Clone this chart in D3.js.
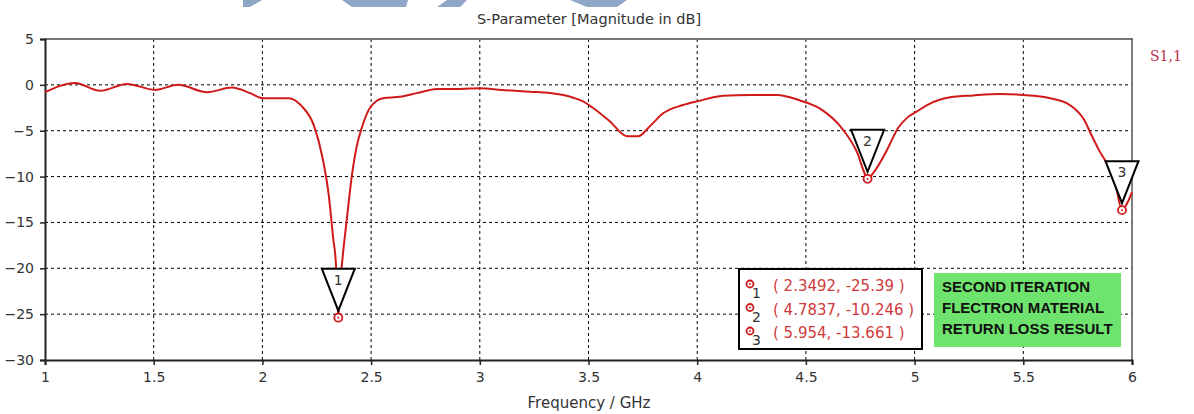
<!DOCTYPE html>
<html>
<head>
<meta charset="utf-8">
<script src="https://cdn.jsdelivr.net/npm/d3@7"></script>
<style>
  body { margin: 0; background: #fff; }
  svg { display: block; }
</style>
</head>
<body>
<svg id="chart" width="1194" height="414"></svg>
<script>
// S11 curve (GHz, dB)
var freq = [1.000, 1.138, 1.253, 1.377, 1.506, 1.612, 1.745, 1.860, 1.943, 2.003,
  2.120, 2.180, 2.238, 2.277, 2.305, 2.325, 2.339, 2.345, 2.3492, 2.354,
  2.365, 2.388, 2.411, 2.434, 2.457, 2.495, 2.555, 2.633, 2.711, 2.803,
  2.900, 3.000, 3.100, 3.230, 3.323, 3.430, 3.475, 3.520, 3.599, 3.677,
  3.728, 3.783, 3.843, 3.935, 3.999, 4.119, 4.243, 4.367, 4.473, 4.565,
  4.671, 4.736, 4.773, 4.7837, 4.810, 4.873, 4.924, 4.965, 5.011, 5.057,
  5.163, 5.269, 5.393, 5.499, 5.623, 5.700, 5.750, 5.780, 5.810, 5.850,
  5.890, 5.920, 5.954, 5.980, 6.000];
var s11 = [-0.8, 0.2, -0.65, 0.1, -0.55, 0.0, -0.8, -0.3, -0.9, -1.45,
  -1.45, -2.3, -4.5, -8.0, -12.0, -16.6, -19.8, -23.0, -25.39, -23.0,
  -19.8, -14.7, -10.0, -6.7, -4.7, -2.5, -1.45, -1.3, -0.9, -0.45,
  -0.45, -0.36, -0.55, -0.75, -0.9, -1.4, -1.8, -2.5, -4.0, -5.6,
  -5.6, -4.5, -3.1, -2.2, -1.8, -1.2, -1.1, -1.1, -1.7, -2.6,
  -4.9, -7.4, -9.8, -10.246, -9.6, -7.1, -4.7, -3.6, -2.9, -2.2,
  -1.35, -1.15, -1.0, -1.1, -1.45, -2.0, -2.9, -3.8, -5.3, -7.2,
  -8.8, -10.4, -13.661, -12.8, -11.7];

var markerIds = ["1", "2", "3"];
var markerF = [2.3492, 4.7837, 5.954];
var markerDb = [-25.39, -10.246, -13.661];

var xTicks = [1, 1.5, 2, 2.5, 3, 3.5, 4, 4.5, 5, 5.5, 6];
var yTicks = [5, 0, -5, -10, -15, -20, -25, -30];

var noteLines = ["SECOND ITERATION", "FLECTRON MATERIAL", "RETURN LOSS RESULT"];

var svg = d3.select("#chart");
var pLeft = 45, pRight = 1132, pTop = 39, pBottom = 360;

var x = d3.scaleLinear().domain([1, 6]).range([pLeft, pRight]);
var y = d3.scaleLinear().domain([-30, 5]).range([pBottom, pTop]);

// watermark bits at the top edge
var wm = [
  [[243, 0], [262, 0], [250, 7], [243, 7]],
  [[342, 0], [408, 0], [406, 7], [352, 7]],
  [[447, 0], [467, 0], [460, 7], [437, 7]],
  [[570, 0], [627, 0], [617, 7], [587, 7]]
];
svg.selectAll("polygon.wm").data(wm).enter().append("polygon")
  .attr("class", "wm")
  .attr("points", function(d) { return d.map(function(p) { return p.join(","); }).join(" "); })
  .style("fill", "#8fa6c6");

// grid
var g = svg.append("g");
g.selectAll("line.vg").data(xTicks.slice(1, -1)).enter().append("line")
  .attr("x1", function(d) { return x(d); }).attr("x2", function(d) { return x(d); })
  .attr("y1", pTop).attr("y2", pBottom)
  .style("stroke", "#000").style("stroke-width", 1).style("stroke-dasharray", "3,3");
g.selectAll("line.hg").data(yTicks.slice(1, -1)).enter().append("line")
  .attr("x1", pLeft).attr("x2", pRight)
  .attr("y1", function(d) { return y(d); }).attr("y2", function(d) { return y(d); })
  .style("stroke", "#000").style("stroke-width", 1).style("stroke-dasharray", "3,3");

// frame top/right
svg.append("line").attr("x1", pLeft).attr("x2", pRight + 1).attr("y1", pTop).attr("y2", pTop)
  .style("stroke", "#777").style("stroke-width", 2);
svg.append("line").attr("x1", pRight).attr("x2", pRight).attr("y1", pTop).attr("y2", pBottom)
  .style("stroke", "#555").style("stroke-width", 1.5);

// axes
var xAxis = d3.axisBottom(x).tickValues(xTicks).tickSize(5).tickPadding(7)
  .tickFormat(d3.format("~g"));
var yAxis = d3.axisLeft(y).tickValues(yTicks).tickSize(5).tickPadding(6)
  .tickFormat(d3.format("~g"));

var gx = svg.append("g").attr("transform", "translate(0," + pBottom + ")").call(xAxis);
var gy = svg.append("g").attr("transform", "translate(" + pLeft + ",0)").call(yAxis);
[gx, gy].forEach(function(a) {
  a.select(".domain").style("stroke", "#222").style("stroke-width", 2);
  a.selectAll(".tick line").style("stroke", "#222").style("stroke-width", 1.5);
  a.selectAll(".tick text").style("font-family", "DejaVu Sans").style("font-size", "14px")
    .style("fill", "#333");
});

// curve
var line = d3.line()
  .x(function(d, i) { return x(freq[i]); })
  .y(function(d) { return y(d); })
  .curve(d3.curveMonotoneX);
svg.append("path").datum(s11)
  .attr("d", line)
  .style("fill", "none").style("stroke", "#d01a1a").style("stroke-width", 2);

// markers on the curve
markerF.forEach(function(f, i) {
  var mx = x(f), my = y(markerDb[i]);
  var ty = my - 7;
  svg.append("path")
    .attr("d", "M" + (mx - 16.5) + "," + (ty - 42) + "L" + (mx + 16.5) + "," + (ty - 42) + "L" + mx + "," + ty + "Z")
    .style("fill", "#fff").style("stroke", "#000").style("stroke-width", 2);
  svg.append("text").attr("x", mx).attr("y", ty - 26)
    .attr("text-anchor", "middle")
    .style("font-family", "DejaVu Sans").style("font-size", "14px").style("fill", "#333")
    .text(markerIds[i]);
  svg.append("circle").attr("cx", mx).attr("cy", my).attr("r", 4)
    .style("fill", "#fff").style("stroke", "#d01a1a").style("stroke-width", 1.8);
  svg.append("circle").attr("cx", mx).attr("cy", my).attr("r", 1)
    .style("fill", "#d01a1a");
});

// marker table
svg.append("rect").attr("x", 739).attr("y", 269).attr("width", 183).attr("height", 80)
  .style("fill", "#fff").style("stroke", "#000").style("stroke-width", 2);
markerF.forEach(function(f, i) {
  var cy = 284 + i * 23.5;
  svg.append("circle").attr("cx", 750).attr("cy", cy).attr("r", 3.5)
    .style("fill", "#fff").style("stroke", "#d01a1a").style("stroke-width", 1.8);
  svg.append("circle").attr("cx", 750).attr("cy", cy).attr("r", 1).style("fill", "#d01a1a");
  svg.append("text").attr("x", 752).attr("y", cy + 14)
    .style("font-family", "DejaVu Sans").style("font-size", "14px").style("fill", "#333")
    .text(markerIds[i]);
  svg.append("text").attr("x", 773).attr("y", cy + 7)
    .style("font-family", "DejaVu Sans").style("font-size", "15px").style("fill", "#d03a3a")
    .text("( " + f + ", " + markerDb[i] + " )");
});

// green note
svg.append("rect").attr("x", 934).attr("y", 273).attr("width", 187).attr("height", 74)
  .style("fill", "#6ee46e");
svg.selectAll("text.note").data(noteLines).enter().append("text")
  .attr("class", "note")
  .attr("x", 942).attr("y", function(d, i) { return 292 + i * 21; })
  .style("font-family", "Liberation Sans").style("font-weight", "bold")
  .style("font-size", "15px").style("fill", "#111")
  .text(function(d) { return d; });

// titles
svg.append("text").attr("x", 589).attr("y", 24).attr("text-anchor", "middle")
  .style("font-family", "DejaVu Sans").style("font-size", "14.5px").style("fill", "#333")
  .text("S-Parameter [Magnitude in dB]");
svg.append("text").attr("x", 589).attr("y", 408).attr("text-anchor", "middle")
  .style("font-family", "DejaVu Sans").style("font-size", "15px").style("fill", "#333")
  .text("Frequency / GHz");
svg.append("text").attr("x", 1150).attr("y", 61)
  .style("font-family", "DejaVu Serif").style("font-size", "14px").style("fill", "#c0304a")
  .text("S1,1");
</script>
</body>
</html>
